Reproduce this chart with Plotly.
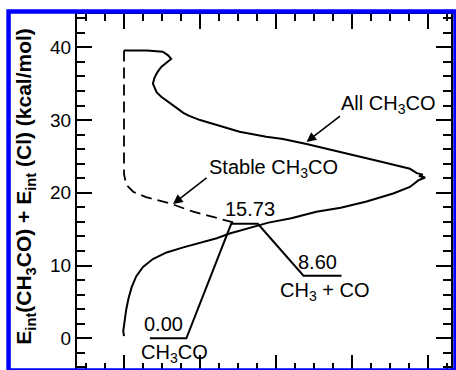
import plotly.graph_objects as go

# ---- data ----
all_x = [0.00, -0.01, 0.01, 0.03, 0.06, 0.10, 0.16, 0.25, 0.38, 0.56, 0.78, 1.00, 1.22, 1.39,
         1.65, 1.90, 2.20, 2.53, 2.85, 3.19, 3.54, 3.76, 3.87, 3.96, 3.88, 3.93, 3.85, 3.76,
         3.41, 2.97, 2.58, 2.40, 2.09, 1.87, 1.52, 1.22, 1.00, 0.85, 0.78, 0.70, 0.62, 0.55,
         0.49, 0.43, 0.40, 0.38, 0.40, 0.44, 0.49, 0.56, 0.62, 0.58, 0.51, 0.30, 0.00]
all_y = [0.3, 1.0, 2.5, 4.0, 5.5, 7.0, 8.5, 9.8, 10.9, 11.8, 12.5, 13.1, 13.75, 14.4,
         15.2, 15.9, 16.5, 17.4, 17.95, 18.8, 19.9, 20.8, 21.7, 22.1, 22.3, 22.5, 22.7, 23.3,
         24.2, 25.3, 26.3, 26.7, 27.4, 27.7, 28.4, 29.3, 30.0, 30.6, 31.0, 31.6, 32.2, 32.7,
         33.2, 33.8, 34.4, 35.0, 35.8, 36.6, 37.3, 37.9, 38.4, 38.9, 39.4, 39.55, 39.55]

stable_x = [0.00, 0.00, 0.03, 0.12, 0.29, 0.60, 0.91, 1.22, 1.45]
stable_y = [39.55, 22.6, 21.1, 20.15, 19.4, 18.56, 17.4, 16.5, 15.9]

diag_x = [0.34, 0.82, 1.41, 1.76, 2.36, 2.86]
diag_y = [0.00, 0.00, 15.73, 15.73, 8.60, 8.60]

energies = [0.00, 15.73, 8.60]
species = ["CH<sub>3</sub>CO", "", "CH<sub>3</sub> + CO"]

y_ticks = [0, 10, 20, 30, 40]

FONT = "Arial, Liberation Sans, Helvetica, sans-serif"

fig = go.Figure()
fig.add_trace(go.Scatter(x=all_x, y=all_y, mode="lines",
                         line=dict(color="black", width=2), showlegend=False))
fig.add_trace(go.Scatter(x=stable_x, y=stable_y, mode="lines",
                         line=dict(color="black", width=1.8, dash="11px,6px"), showlegend=False))
fig.add_trace(go.Scatter(x=diag_x, y=diag_y, mode="lines",
                         line=dict(color="black", width=2), showlegend=False))

ann = []
tf = dict(family=FONT, size=20, color="black")
# energy values
ann.append(dict(x=0.52, y=energies[0], text=f"{energies[0]:.2f}", showarrow=False,
                yanchor="bottom", yshift=1, font=tf))
ann.append(dict(x=1.66, y=energies[1], text=f"{energies[1]:.2f}", showarrow=False,
                yanchor="bottom", yshift=2, font=tf))
ann.append(dict(x=2.55, y=energies[2], text=f"{energies[2]:.2f}", showarrow=False,
                yanchor="bottom", yshift=1, font=tf))
# species names
ann.append(dict(x=0.67, y=energies[0], text=species[0], showarrow=False,
                yanchor="top", yshift=-1, font=tf))
ann.append(dict(x=2.63, y=energies[2], text=species[2], showarrow=False,
                yanchor="top", yshift=-1, font=tf))
# curve labels
ann.append(dict(x=3.47, y=32.1, text="All CH<sub>3</sub>CO", showarrow=False, font=tf))
ann.append(dict(x=1.97, y=23.4, text="Stable CH<sub>3</sub>CO", showarrow=False, font=tf))
# arrows
ann.append(dict(x=2.40, y=27.0, ax=2.86, ay=30.7, axref="x", ayref="y", text="",
                showarrow=True, arrowhead=2, arrowsize=1.2, arrowwidth=1.6, arrowcolor="black"))
ann.append(dict(x=0.645, y=18.46, ax=1.105, ay=22.2, axref="x", ayref="y", text="",
                showarrow=True, arrowhead=2, arrowsize=1.2, arrowwidth=1.6, arrowcolor="black"))
# y title
ann.append(dict(xref="paper", yref="paper", x=-0.139, y=0.515, textangle=-90,
                xanchor="center", yanchor="middle",
                text="E<sub>int</sub>(CH<sub>3</sub>CO) + E<sub>int</sub> (Cl) (kcal/mol)",
                showarrow=False, font=dict(family=FONT, size=21, color="black", weight="bold")))

fig.update_layout(
    width=456, height=370,
    margin=dict(l=77, r=5, t=14, b=0),
    paper_bgcolor="white", plot_bgcolor="white",
    font=dict(family=FONT, size=18, color="black"),
    annotations=ann,
    shapes=[dict(type="rect", xref="paper", yref="paper",
                 x0=-0.183, x1=1.012, y0=-0.0014, y1=1.007,
                 line=dict(color="#0000FF", width=4.5), layer="above")],
)
fig.update_xaxes(range=[-0.618, 4.30], showgrid=False, zeroline=False,
                 showline=True, linecolor="black", linewidth=2, mirror="ticks",
                 ticks="inside", ticklen=15, tickwidth=2, tickcolor="black",
                 tick0=0, dtick=1, showticklabels=False,
                 minor=dict(ticks="inside", ticklen=7, tickwidth=1.5, tickcolor="black",
                            dtick=0.25, showgrid=False))
fig.update_yaxes(range=[-4.36, 44.58], showgrid=False, zeroline=False,
                 showline=True, linecolor="black", linewidth=2, mirror="ticks",
                 ticks="inside", ticklen=15, tickwidth=2, tickcolor="black",
                 tickvals=y_ticks,
                 tickfont=dict(family=FONT, size=19, color="black"),
                 minor=dict(ticks="inside", ticklen=8, tickwidth=1.5, tickcolor="black",
                            dtick=2, tick0=0, showgrid=False))

fig.write_html("out.html")
